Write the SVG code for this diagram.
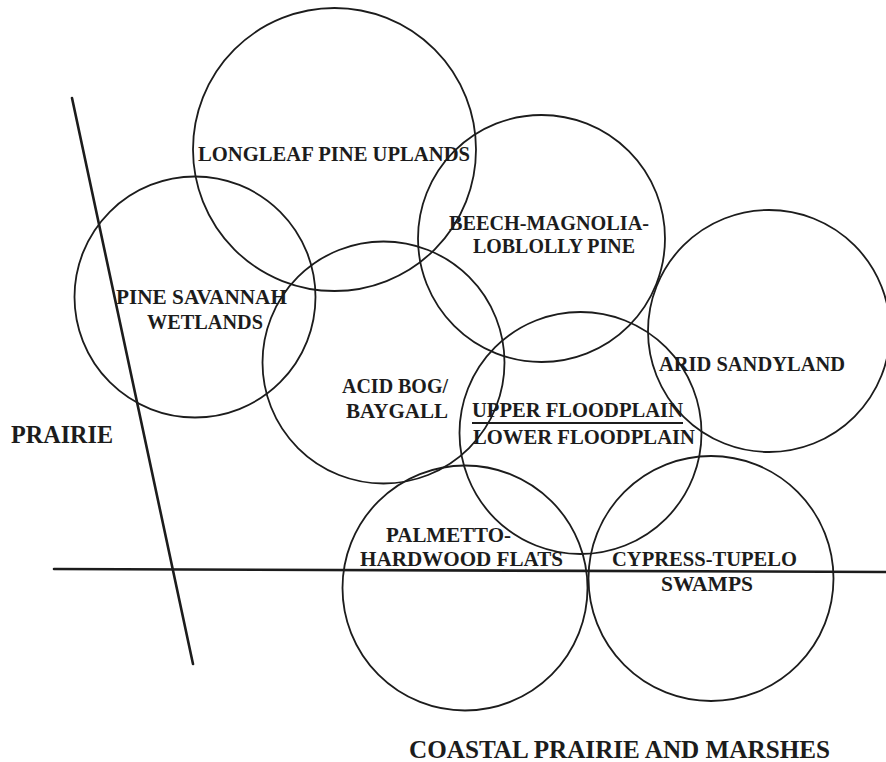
<svg xmlns="http://www.w3.org/2000/svg" width="886" height="762" viewBox="0 0 886 762">
<style>
.c{fill:none;stroke:#1c1c1c;stroke-width:1.8}
.b{fill:none;stroke:#1c1c1c;stroke-width:2.6;stroke-linecap:round}
text{font-family:"Liberation Serif","Times New Roman",serif;font-weight:bold;font-size:20.5px;fill:#1c1c1c}
.big{font-size:24.5px}
</style>
<rect width="886" height="762" fill="#fff"/>
<g id="boundaries">
<line class="b" x1="72" y1="98" x2="193" y2="664"/>
<line class="b" x1="54" y1="569" x2="886" y2="572"/>
</g>
<g id="longleaf">
<circle class="c" cx="334.5" cy="149.5" r="141.5"/>
<text x="198" y="161" textLength="272" lengthAdjust="spacingAndGlyphs">LONGLEAF PINE UPLANDS</text>
</g>
<g id="beech">
<circle class="c" cx="541.5" cy="238.5" r="123.5"/>
<text x="449" y="230" textLength="200" lengthAdjust="spacingAndGlyphs">BEECH-MAGNOLIA-</text>
<text x="473" y="253" textLength="162" lengthAdjust="spacingAndGlyphs">LOBLOLLY PINE</text>
</g>
<g id="savannah">
<circle class="c" cx="195" cy="297" r="120.5"/>
<text x="116" y="304" textLength="171" lengthAdjust="spacingAndGlyphs">PINE SAVANNAH</text>
<text x="147" y="329" textLength="116" lengthAdjust="spacingAndGlyphs">WETLANDS</text>
</g>
<g id="acidbog">
<circle class="c" cx="383.5" cy="362.5" r="121"/>
<text x="342" y="393" textLength="106" lengthAdjust="spacingAndGlyphs">ACID BOG/</text>
<text x="346" y="418" textLength="102" lengthAdjust="spacingAndGlyphs">BAYGALL</text>
</g>
<g id="arid">
<circle class="c" cx="769" cy="331" r="121"/>
<text x="659" y="371" textLength="186" lengthAdjust="spacingAndGlyphs">ARID SANDYLAND</text>
</g>
<g id="floodplain">
<circle class="c" cx="580.5" cy="433" r="121"/>
<text x="472" y="417" textLength="211" lengthAdjust="spacingAndGlyphs">UPPER FLOODPLAIN</text>
<line x1="472" y1="423" x2="683" y2="423" stroke="#1c1c1c" stroke-width="1.8"/>
<text x="473" y="444" textLength="222" lengthAdjust="spacingAndGlyphs">LOWER FLOODPLAIN</text>
</g>
<g id="palmetto">
<circle class="c" cx="465" cy="588" r="122.5"/>
<text x="386" y="542" textLength="125" lengthAdjust="spacingAndGlyphs">PALMETTO-</text>
<text x="360" y="566" textLength="203" lengthAdjust="spacingAndGlyphs">HARDWOOD FLATS</text>
</g>
<g id="cypress">
<circle class="c" cx="711" cy="578.5" r="122.5"/>
<text x="612" y="566" textLength="185" lengthAdjust="spacingAndGlyphs">CYPRESS-TUPELO</text>
<text x="661" y="591" textLength="92" lengthAdjust="spacingAndGlyphs">SWAMPS</text>
</g>
<g id="prairie">
<text class="big" x="11" y="443" textLength="102" lengthAdjust="spacingAndGlyphs">PRAIRIE</text>
</g>
<g id="coastal">
<text class="big" x="409" y="758" textLength="421" lengthAdjust="spacingAndGlyphs">COASTAL PRAIRIE AND MARSHES</text>
</g>
</svg>
